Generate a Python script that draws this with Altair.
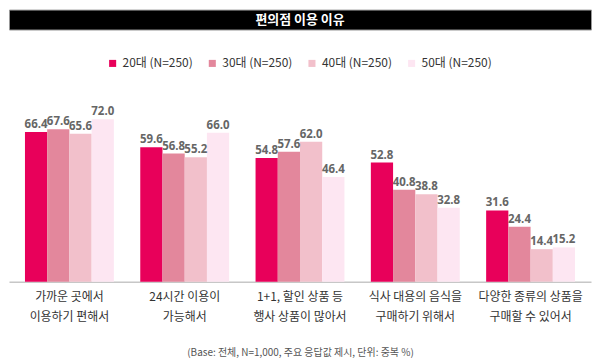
import altair as alt
import pandas as pd

title_text = ["편의점 이용 이유"]
categories = [
    "가까운 곳에서\n이용하기 편해서",
    "24시간 이용이\n가능해서",
    "1+1, 할인 상품 등\n행사 상품이 많아서",
    "식사 대용의 음식을\n구매하기 위해서",
    "다양한 종류의 상품을\n구매할 수 있어서",
]
series = ["20대 (N=250)", "30대 (N=250)", "40대 (N=250)", "50대 (N=250)"]
v20 = [66.4, 59.6, 54.8, 52.8, 31.6]
v30 = [67.6, 56.8, 57.6, 40.8, 24.4]
v40 = [65.6, 55.2, 62.0, 38.8, 14.4]
v50 = [72.0, 66.0, 46.4, 32.8, 15.2]
colors = ["#E8005A", "#E3879C", "#F2C0CB", "#FDE6F2"]
footnote = "(Base: 전체, N=1,000, 주요 응답값 제시, 단위: 중복 %)"

rows = []
for s, vals in zip(series, [v20, v30, v40, v50]):
    for c, v in zip(categories, vals):
        rows.append({"category": c, "series": s, "value": v})
df = pd.DataFrame(rows)

FONT = "Noto Sans CJK KR"

header = (
    alt.Chart(pd.DataFrame({"t": title_text}))
    .mark_text(color="white", fontWeight="bold", fontSize=13, font=FONT)
    .encode(text="t:N")
    .properties(width=584, height=20,
                view=alt.ViewBackground(fill="black", stroke="#999", strokeWidth=1))
)

x = alt.X("category:N", sort=categories,
          scale=alt.Scale(paddingInner=0.229, paddingOuter=0.1385),
          axis=alt.Axis(title=footnote, labelAngle=0, ticks=False,
                        labelExpr="split(datum.label, '\\n')",
                        labelFontSize=12, labelColor="#333", labelFont=FONT,
                        labelPadding=10, labelLineHeight=20,
                        domainColor="#aaa", titleFontSize=10, titleColor="#555",
                        titleFont=FONT, titleFontWeight="normal", titlePadding=25,
                        labelLimit=200))
xo = alt.XOffset("series:N", sort=series, scale=alt.Scale(paddingInner=0, paddingOuter=0))
y = alt.Y("value:Q", scale=alt.Scale(domain=[0, 80]), axis=None)

bars = alt.Chart(df).mark_bar().encode(
    x=x, xOffset=xo, y=y,
    color=alt.Color("series:N", sort=series,
                    scale=alt.Scale(domain=series, range=colors),
                    legend=alt.Legend(title=None, orient="none", legendX=98, legendY=48,
                                      direction="horizontal", columns=4,
                                      symbolType="square", symbolSize=50,
                                      symbolStrokeWidth=0,
                                      labelFontSize=12, labelColor="#333", labelFont=FONT,
                                      columnPadding=13, labelLimit=200)),
)
labels = alt.Chart(df).mark_text(dy=-7, fontSize=11.5, fontWeight="bold", color="#666",
                                 font="Open Sans").encode(
    x=x, xOffset=xo, y=y, text=alt.Text("value:Q", format=".1f")
)
main = alt.layer(bars, labels).properties(width=584, height=181)

chart = (
    alt.vconcat(header, main, spacing=72, bounds="flush")
    .properties(padding=0)
    .configure_view(stroke=None)
)
chart.save("out.html", embed_options={"renderer": "svg", "actions": False})
